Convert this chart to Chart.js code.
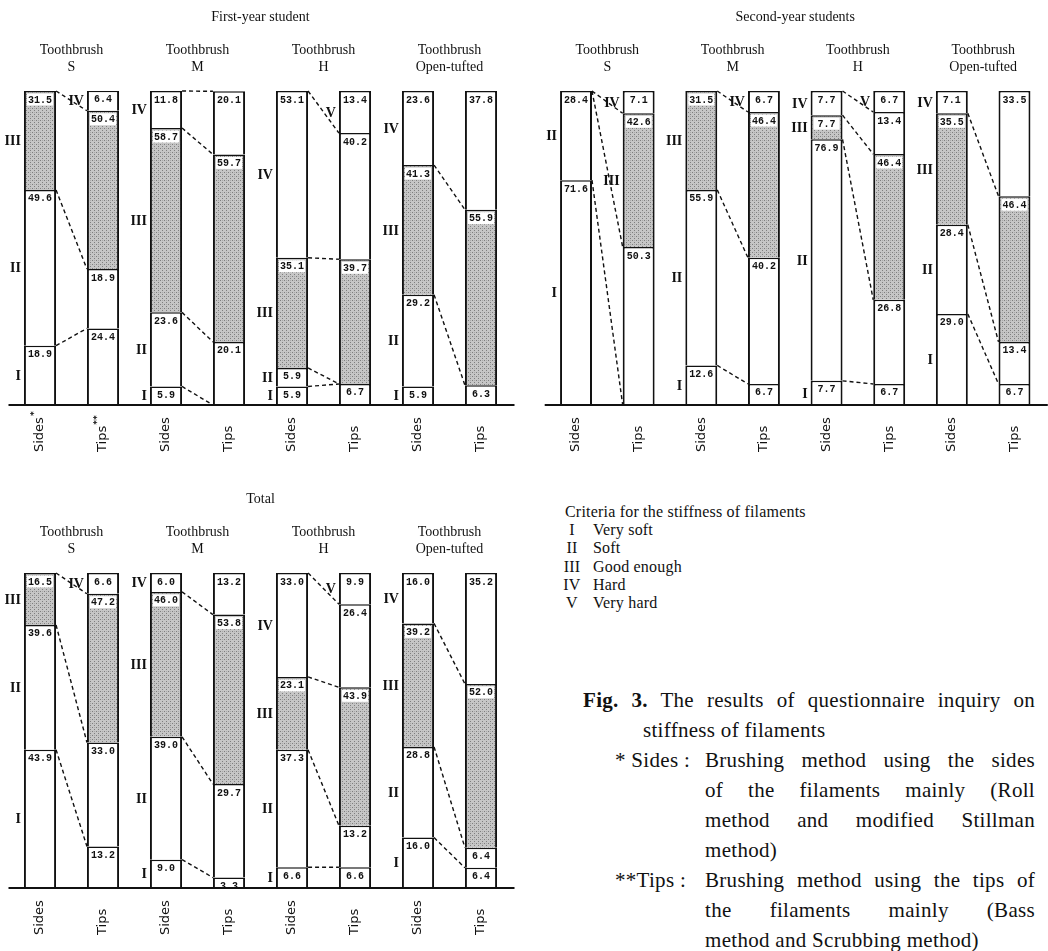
<!DOCTYPE html>
<html>
<head>
<meta charset="utf-8">
<script src="https://cdn.jsdelivr.net/npm/chart.js@4.4.1/dist/chart.umd.min.js"></script>
<style>
  body { margin: 0; background: #fff; width: 1048px; height: 951px; position: relative; overflow: hidden; }
  .panel { position: absolute; }
  .txt { position: absolute; font-family: "Liberation Serif", serif; color: #111; }
  .legend { left: 560px; top: 503px; font-size: 16px; line-height: 18.2px; letter-spacing: 0.2px; white-space: nowrap; }
  .legend .n { display: inline-block; width: 24px; text-align: center; }
  .legend .d { margin-left: 9px; }
  .caption { left: 583px; top: 685px; width: 452px; font-size: 21px; line-height: 30px; letter-spacing: 0.3px; }
  .j { text-align: justify; text-align-last: justify; white-space: nowrap; }
  .sub { margin-left: 122px; }
  .tag { position: absolute; left: 32px; }
</style>
</head>
<body>
<div class="panel" style="left:0;top:0"><canvas id="c1" width="524" height="475"></canvas></div>
<div class="panel" style="left:524px;top:0"><canvas id="c2" width="524" height="475"></canvas></div>
<div class="panel" style="left:0;top:475px"><canvas id="c3" width="524" height="476"></canvas></div>

<div class="txt legend">
  <div style="margin-left:5px">Criteria for the stiffness of filaments</div>
  <div><span class="n">I</span><span class="d">Very soft</span></div>
  <div><span class="n">II</span><span class="d">Soft</span></div>
  <div><span class="n">III</span><span class="d">Good enough</span></div>
  <div><span class="n">IV</span><span class="d">Hard</span></div>
  <div><span class="n">V</span><span class="d">Very hard</span></div>
</div>

<div class="txt caption">
  <div class="j"><b>Fig. 3.</b> The results of questionnaire inquiry on</div>
  <div style="margin-left:60px">stiffness of filaments</div>
  <div style="position:relative"><span class="tag">* Sides :</span><div class="sub j">Brushing method using the sides</div></div>
  <div class="sub j">of the filaments mainly (Roll</div>
  <div class="sub j">method and modified Stillman</div>
  <div class="sub">method)</div>
  <div style="position:relative"><span class="tag">**Tips :</span><div class="sub j">Brushing method using the tips of</div></div>
  <div class="sub j">the filaments mainly (Bass</div>
  <div class="sub">method and Scrubbing method)</div>
</div>

<script>
// bars in each panel: S sides, S tips, M sides, M tips, H sides, H tips, Open-tufted sides, Open-tufted tips
const brushNames = ['S', 'M', 'H', 'Open-tufted'];
const barNames = ['Sides', 'Tips'];
const classNames = ['I', 'II', 'III', 'IV', 'V'];

// First-year student (%)
const firstI   = [18.9, 24.4,  5.9,  0.0,  5.9,  6.7,  5.9,  6.3];
const firstII  = [49.6, 18.9, 23.6, 20.1,  5.9,  0.0, 29.2,  0.0];
const firstIII = [31.5, 50.4, 58.7, 59.7, 35.1, 39.7, 41.3, 55.9];
const firstIV  = [ 0.0,  6.4, 11.8, 20.1, 53.1, 40.2, 23.6, 37.8];
const firstV   = [ 0.0,  0.0,  0.0,  0.0,  0.0, 13.4,  0.0,  0.0];

// Second-year students (%)
const secondI   = [71.6,  0.0, 12.6,  6.7,  7.7,  6.7, 29.0,  6.7];
const secondII  = [28.4, 50.3, 55.9, 40.2, 76.9, 26.8, 28.4, 13.4];
const secondIII = [ 0.0, 42.6, 31.5, 46.4,  7.7, 46.4, 35.5, 46.4];
const secondIV  = [ 0.0,  7.1,  0.0,  6.7,  7.7, 13.4,  7.1, 33.5];
const secondV   = [ 0.0,  0.0,  0.0,  0.0,  0.0,  6.7,  0.0,  0.0];

// Total (%)
const totalI   = [43.9, 13.2,  9.0,  3.3,  6.6,  6.6, 16.0,  6.4];
const totalII  = [39.6, 33.0, 39.0, 29.7, 37.3, 13.2, 28.8,  6.4];
const totalIII = [16.5, 47.2, 46.0, 53.8, 23.1, 43.9, 39.2, 52.0];
const totalIV  = [ 0.0,  6.6,  6.0, 13.2, 33.0, 26.4, 16.0, 35.2];
const totalV   = [ 0.0,  0.0,  0.0,  0.0,  0.0,  9.9,  0.0,  0.0];

// boundaries without a dashed link in the original ([brush, boundary])
const firstNoLink = [[3, 0]];

const categories = brushNames.flatMap(b => barNames.map(s => b + ' ' + s));

// grey stipple for class III
function stipple() {
  const c = document.createElement('canvas');
  c.width = 4; c.height = 4;
  const g = c.getContext('2d');
  g.fillStyle = '#c6c6c6'; g.fillRect(0, 0, 4, 4);
  g.fillStyle = '#7e7e7e'; g.fillRect(0, 0, 1, 1); g.fillRect(2, 2, 1, 1);
  g.fillStyle = '#a8a8a8'; g.fillRect(2, 0, 1, 1);
  return g.createPattern(c, 'repeat');
}
const grey = stipple();

function makePanel(id, title, series, pad, starred, noLink) {
  const annotate = {
    id: 'annotate',
    afterDraw(chart) {
      const ctx = chart.ctx, area = chart.chartArea, y = chart.scales.y;
      const metas = series.map((s, k) => chart.getDatasetMeta(k));
      const bar = i => metas[0].data[i];
      ctx.save();

      // baseline
      ctx.strokeStyle = '#111'; ctx.lineWidth = 2;
      ctx.beginPath();
      ctx.moveTo(area.left, y.getPixelForValue(0));
      ctx.lineTo(area.right + 2, y.getPixelForValue(0));
      ctx.stroke();

      // dashed links between sides and tips
      ctx.lineWidth = 1.4; ctx.setLineDash([4, 3]);
      for (let g = 0; g < 4; g++) {
        const s = bar(2 * g), t = bar(2 * g + 1);
        let cs = 0, ct = 0;
        for (let b = 0; b < 4; b++) {
          cs += series[b][2 * g]; ct += series[b][2 * g + 1];
          if (cs > 99.9 && ct > 99.9) continue;
          if (noLink.some(n => n[0] === g && n[1] === b)) continue;
          ctx.beginPath();
          ctx.moveTo(s.x + s.width / 2, y.getPixelForValue(Math.min(cs, 100)));
          ctx.lineTo(t.x - t.width / 2, y.getPixelForValue(Math.min(ct, 100)));
          ctx.stroke();
        }
      }
      ctx.setLineDash([]);

      // value boxes
      ctx.textAlign = 'center'; ctx.textBaseline = 'middle';
      ctx.font = 'bold 10px "Liberation Mono", monospace';
      series.forEach((arr, k) => {
        arr.forEach((v, i) => {
          if (!(v > 0)) return;
          const el = metas[k].data[i];
          const l = el.x - el.width / 2;
          if (k === 2) {
            ctx.fillStyle = '#fff';
            ctx.fillRect(l + 3, el.y + 2.5, el.width - 6, 12);
          }
          ctx.fillStyle = '#111';
          ctx.fillText(v.toFixed(1), el.x, el.y + 9);
        });
      });

      // roman numerals beside the bars
      ctx.textAlign = 'right';
      ctx.font = 'bold 14px "Liberation Serif", serif';
      for (let g = 0; g < 4; g++) {
        classNames.forEach((name, k) => {
          let i = 2 * g;
          if (!(series[k][i] > 0)) i = 2 * g + 1;
          if (!(series[k][i] > 0)) return;
          const el = metas[k].data[i];
          ctx.fillText(name, el.x - el.width / 2 - 3, (el.y + el.base) / 2 + 1);
        });
      }

      // titles
      ctx.textAlign = 'center';
      ctx.font = '14px "Liberation Serif", serif';
      ctx.fillText(title, (area.left + area.right) / 2, area.top - 74);
      brushNames.forEach((b, g) => {
        const cx = (bar(2 * g).x + bar(2 * g + 1).x) / 2;
        ctx.fillText('Toothbrush', cx, area.top - 41);
        ctx.fillText(b, cx, area.top - 24);
      });

      // rotated bar labels
      ctx.font = '13px "DejaVu Sans", sans-serif';
      ctx.textAlign = 'left';
      categories.forEach((c, i) => {
        const name = barNames[i % 2];
        ctx.save();
        ctx.translate(bar(i).x, area.bottom + 47);
        ctx.rotate(-Math.PI / 2);
        ctx.fillText(name, 0, 0);
        if (starred && i < 2) {
          const w = ctx.measureText(name).width;
          ctx.font = 'bold 9px "DejaVu Sans", sans-serif';
          ctx.fillText(i === 0 ? '*' : '**', w + 1, -5);
        }
        ctx.restore();
      });
      ctx.restore();
    }
  };

  new Chart(document.getElementById(id), {
    type: 'bar',
    data: {
      labels: categories,
      datasets: series.map((arr, k) => ({
        label: classNames[k],
        data: arr,
        backgroundColor: k === 2 ? grey : '#fff',
        borderColor: '#111',
        borderWidth: { top: 1.5, left: 2, right: 2, bottom: 0 },
        borderSkipped: false,
        categoryPercentage: 1,
        barPercentage: 0.51
      }))
    },
    options: {
      responsive: false,
      animation: false,
      layout: { padding: pad },
      plugins: { legend: { display: false }, tooltip: { enabled: false } },
      scales: {
        x: { stacked: true, display: false },
        y: { stacked: true, display: false, min: 0, max: 100 }
      }
    },
    plugins: [annotate]
  });
}

makePanel('c1', 'First-year student', [firstI, firstII, firstIII, firstIV, firstV],
  { left: 8.5, right: 11.5, top: 91, bottom: 70 }, true, firstNoLink);
makePanel('c2', 'Second-year students', [secondI, secondII, secondIII, secondIV, secondV],
  { left: 20.7, right: 2.2, top: 91, bottom: 70 }, false, []);
makePanel('c3', 'Total', [totalI, totalII, totalIII, totalIV, totalV],
  { left: 8.5, right: 11.5, top: 98, bottom: 63 }, false, []);
</script>
</body>
</html>
